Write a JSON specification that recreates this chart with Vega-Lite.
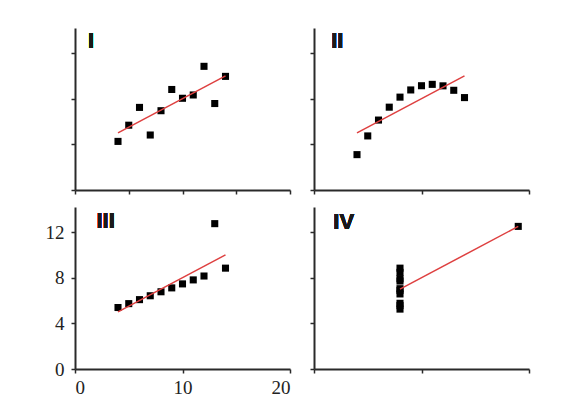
{
  "$schema": "https://vega.github.io/schema/vega-lite/v6.json",
  "background": "white",
  "padding": {"left": 45, "top": 28, "right": 5, "bottom": 5},
  "datasets": {
    "anscombe": [
      {"set": "I", "x": 10, "y": 8.04}, {"set": "I", "x": 8, "y": 6.95}, {"set": "I", "x": 13, "y": 7.58}, {"set": "I", "x": 9, "y": 8.81}, {"set": "I", "x": 11, "y": 8.33}, {"set": "I", "x": 14, "y": 9.96}, {"set": "I", "x": 6, "y": 7.24}, {"set": "I", "x": 4, "y": 4.26}, {"set": "I", "x": 12, "y": 10.84}, {"set": "I", "x": 7, "y": 4.82}, {"set": "I", "x": 5, "y": 5.68},
      {"set": "II", "x": 10, "y": 9.14}, {"set": "II", "x": 8, "y": 8.14}, {"set": "II", "x": 13, "y": 8.74}, {"set": "II", "x": 9, "y": 8.77}, {"set": "II", "x": 11, "y": 9.26}, {"set": "II", "x": 14, "y": 8.1}, {"set": "II", "x": 6, "y": 6.13}, {"set": "II", "x": 4, "y": 3.1}, {"set": "II", "x": 12, "y": 9.13}, {"set": "II", "x": 7, "y": 7.26}, {"set": "II", "x": 5, "y": 4.74},
      {"set": "III", "x": 10, "y": 7.46}, {"set": "III", "x": 8, "y": 6.77}, {"set": "III", "x": 13, "y": 12.74}, {"set": "III", "x": 9, "y": 7.11}, {"set": "III", "x": 11, "y": 7.81}, {"set": "III", "x": 14, "y": 8.84}, {"set": "III", "x": 6, "y": 6.08}, {"set": "III", "x": 4, "y": 5.39}, {"set": "III", "x": 12, "y": 8.15}, {"set": "III", "x": 7, "y": 6.42}, {"set": "III", "x": 5, "y": 5.73},
      {"set": "IV", "x": 8, "y": 6.58}, {"set": "IV", "x": 8, "y": 5.76}, {"set": "IV", "x": 8, "y": 7.71}, {"set": "IV", "x": 8, "y": 8.84}, {"set": "IV", "x": 8, "y": 8.47}, {"set": "IV", "x": 8, "y": 7.04}, {"set": "IV", "x": 8, "y": 5.25}, {"set": "IV", "x": 19, "y": 12.5}, {"set": "IV", "x": 8, "y": 5.56}, {"set": "IV", "x": 8, "y": 7.91}, {"set": "IV", "x": 8, "y": 6.89}
    ]
  },
  "data": {"name": "anscombe"},
  "columns": 2,
  "bounds": "flush",
  "spacing": {"row": 17, "column": 24},
  "concat": [
    {
      "width": 215, "height": 162,
      "transform": [{"filter": "datum.set === 'I'"}],
      "layer": [
        {"mark": {"type": "square", "color": "black", "size": 50, "opacity": 1},
         "encoding": {
           "x": {"field": "x", "type": "quantitative", "scale": {"domain": [0, 20], "nice": false}, "axis": {"values": [0, 5, 10, 15, 20], "labels": false, "domainWidth": 2, "domainColor": "#2a2a2a", "tickSize": 4, "tickWidth": 1.5, "tickColor": "#2a2a2a"}},
           "y": {"field": "y", "type": "quantitative", "scale": {"domain": [0, 14.2], "nice": false}, "axis": {"values": [0, 4, 8, 12], "labels": false, "domainWidth": 2, "domainColor": "#2a2a2a", "tickSize": 4, "tickWidth": 1.5, "tickColor": "#2a2a2a"}}}},
        {"transform": [{"regression": "y", "on": "x"}],
         "mark": {"type": "line", "color": "#de4040", "strokeWidth": 1.5},
         "encoding": {"x": {"field": "x", "type": "quantitative"}, "y": {"field": "y", "type": "quantitative"}}},
        {"mark": {"type": "text", "font": "Liberation Sans", "fontWeight": "bold", "fontSize": 22, "align": "left", "baseline": "alphabetic", "color": "#1a1a1a"},
         "encoding": {"x": {"datum": 1.2}, "y": {"datum": 12.45}, "text": {"value": "I"}}}
      ]
    },
    {
      "width": 215, "height": 162,
      "transform": [{"filter": "datum.set === 'II'"}],
      "layer": [
        {"mark": {"type": "square", "color": "black", "size": 50, "opacity": 1},
         "encoding": {
           "x": {"field": "x", "type": "quantitative", "scale": {"domain": [0, 20], "nice": false}, "axis": {"values": [0, 10, 20], "labels": false, "domainWidth": 2, "domainColor": "#2a2a2a", "tickSize": 4, "tickWidth": 1.5, "tickColor": "#2a2a2a"}},
           "y": {"field": "y", "type": "quantitative", "scale": {"domain": [0, 14.2], "nice": false}, "axis": {"values": [0, 4, 8, 12], "labels": false, "domainWidth": 2, "domainColor": "#2a2a2a", "tickSize": 4, "tickWidth": 1.5, "tickColor": "#2a2a2a"}}}},
        {"transform": [{"regression": "y", "on": "x"}],
         "mark": {"type": "line", "color": "#de4040", "strokeWidth": 1.5},
         "encoding": {"x": {"field": "x", "type": "quantitative"}, "y": {"field": "y", "type": "quantitative"}}},
        {"mark": {"type": "text", "font": "Liberation Sans", "fontWeight": "bold", "fontSize": 22, "align": "left", "baseline": "alphabetic", "color": "#1a1a1a"},
         "encoding": {"x": {"datum": 1.6}, "y": {"datum": 12.45}, "text": {"value": "II"}}}
      ]
    },
    {
      "width": 215, "height": 162,
      "transform": [{"filter": "datum.set === 'III'"}],
      "layer": [
        {"mark": {"type": "square", "color": "black", "size": 50, "opacity": 1},
         "encoding": {
           "x": {"field": "x", "type": "quantitative", "scale": {"domain": [0, 20], "nice": false}, "axis": {"values": [0, 10, 20], "labelFont": "Liberation Serif", "labelFontSize": 19, "labelColor": "#222", "labelPadding": 5, "domainWidth": 2, "domainColor": "#2a2a2a", "tickSize": 4, "tickWidth": 1.5, "tickColor": "#2a2a2a"}},
           "y": {"field": "y", "type": "quantitative", "scale": {"domain": [0, 14.2], "nice": false}, "axis": {"values": [0, 4, 8, 12], "labelFont": "Liberation Serif", "labelFontSize": 19, "labelColor": "#222", "labelPadding": 7, "domainWidth": 2, "domainColor": "#2a2a2a", "tickSize": 4, "tickWidth": 1.5, "tickColor": "#2a2a2a"}}}},
        {"transform": [{"regression": "y", "on": "x"}],
         "mark": {"type": "line", "color": "#de4040", "strokeWidth": 1.5},
         "encoding": {"x": {"field": "x", "type": "quantitative"}, "y": {"field": "y", "type": "quantitative"}}},
        {"mark": {"type": "text", "font": "Liberation Sans", "fontWeight": "bold", "fontSize": 22, "align": "left", "baseline": "alphabetic", "color": "#1a1a1a"},
         "encoding": {"x": {"datum": 2.0}, "y": {"datum": 12.4}, "text": {"value": "III"}}}
      ]
    },
    {
      "width": 215, "height": 162,
      "transform": [{"filter": "datum.set === 'IV'"}],
      "layer": [
        {"mark": {"type": "square", "color": "black", "size": 50, "opacity": 1},
         "encoding": {
           "x": {"field": "x", "type": "quantitative", "scale": {"domain": [0, 20], "nice": false}, "axis": {"values": [0, 10, 20], "labels": false, "domainWidth": 2, "domainColor": "#2a2a2a", "tickSize": 4, "tickWidth": 1.5, "tickColor": "#2a2a2a"}},
           "y": {"field": "y", "type": "quantitative", "scale": {"domain": [0, 14.2], "nice": false}, "axis": {"values": [0, 4, 8, 12], "labels": false, "domainWidth": 2, "domainColor": "#2a2a2a", "tickSize": 4, "tickWidth": 1.5, "tickColor": "#2a2a2a"}}}},
        {"transform": [{"regression": "y", "on": "x"}],
         "mark": {"type": "line", "color": "#de4040", "strokeWidth": 1.5},
         "encoding": {"x": {"field": "x", "type": "quantitative"}, "y": {"field": "y", "type": "quantitative"}}},
        {"mark": {"type": "text", "font": "Liberation Sans", "fontWeight": "bold", "fontSize": 22, "align": "left", "baseline": "alphabetic", "color": "#1a1a1a"},
         "encoding": {"x": {"datum": 1.8}, "y": {"datum": 12.3}, "text": {"value": "IV"}}}
      ]
    }
  ],
  "config": {
    "view": {"stroke": null},
    "axis": {"title": null, "grid": false}
  }
}
